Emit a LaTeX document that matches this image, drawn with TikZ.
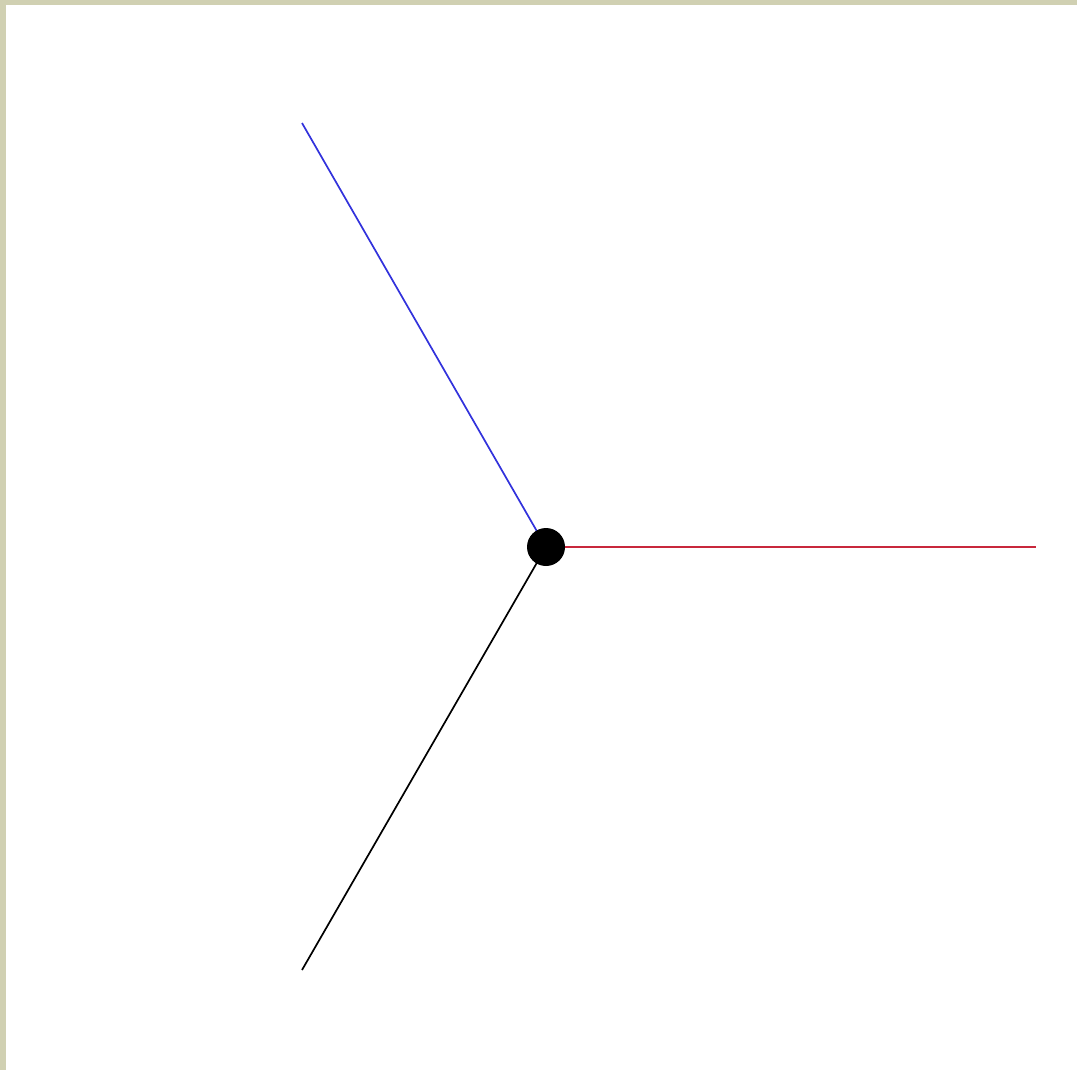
\documentclass[tikz,border=0pt]{standalone}
\definecolor{frame}{RGB}{208,208,178}
\definecolor{lred}{RGB}{200,40,60}
\definecolor{lblue}{RGB}{50,50,220}
\tikzset{arm/.style={line width=1.7pt}}
\begin{document}
\begin{tikzpicture}[x=1pt,y=-1pt]
\useasboundingbox (0,0) rectangle (1077,1070);
\fill[frame] (0,0) rectangle (1077,1070);
\fill[white] (6,5) rectangle (1077,1070);
\coordinate (c) at (546,547);
\coordinate (r) at (1036,547);
\coordinate (u) at (302,123);
\coordinate (d) at (302,970);
\draw[arm,lred] (c) -- (r);
\draw[arm,lblue] (c) -- (u);
\draw[arm,black] (c) -- (d);
\node[circle,fill=black,minimum size=38pt,inner sep=0pt] (dot) at (c) {};
\end{tikzpicture}
\end{document}
